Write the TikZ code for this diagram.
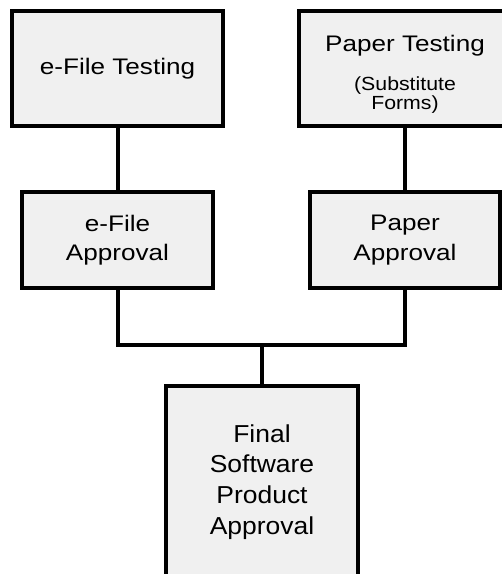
\documentclass[tikz,border=0pt]{standalone}
\usepackage{fontspec}
\setmainfont{Liberation Sans}
\newfontfamily\boxfam{Liberation Sans}[FakeStretch=1.16]
\newfontfamily\subfam{Liberation Sans}[FakeStretch=1.12]
\newfontfamily\finfam{Liberation Sans}[FakeStretch=1.08]
\newcommand\mainf{\boxfam\fontsize{22.5}{29.3}\selectfont}
\newcommand\subf{\subfam\fontsize{19}{18.7}\selectfont}
\newcommand\finf{\finfam\fontsize{24.5}{30.7}\selectfont}
\definecolor{boxgray}{RGB}{240,240,240}
\tikzset{
  box/.style={draw=black, fill=boxgray, line width=4pt, rectangle, inner sep=0pt, align=center, text=black},
  conn/.style={draw=black, line width=4pt}
}
\begin{document}
\begin{tikzpicture}[x=1pt,y=-1pt]
\useasboundingbox (0,0) rectangle (502,574);
\clip (0,0) rectangle (502,574);
\fill[white] (0,0) rectangle (502,574);
\node[box, font=\mainf, minimum width=211pt, minimum height=115pt] (eft) at (117.5,68.5) {e-File Testing};
\node[box, font=\mainf, minimum width=212pt, minimum height=115pt] (pt) at (405,68.5) {\rule{0pt}{28pt}Paper Testing\\[10pt]{\subf (Substitute}\\[-10pt]{\subf Forms)}};
\node[box, font=\mainf, minimum width=191pt, minimum height=96pt] (efa) at (117.5,240) {e-File\\Approval};
\node[box, font=\mainf, minimum width=190pt, minimum height=96pt] (pa) at (405,240) {Paper\\Approval};
\node[box, font=\finf, minimum width=192pt, minimum height=192pt] (fin) at (262,482) {Final\\Software\\Product\\Approval};
\coordinate (join) at (262,345);
\draw[conn] (eft.south) -- (efa.north);
\draw[conn] (pt.south) -- (pa.north);
\draw[conn] (efa.south) |- (join) -| (pa.south);
\draw[conn] (join) -- (fin.north);
\end{tikzpicture}
\end{document}
